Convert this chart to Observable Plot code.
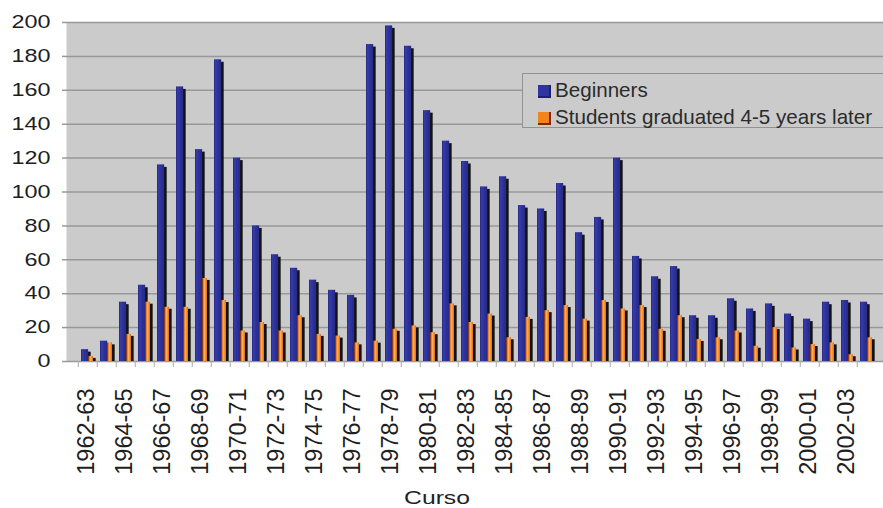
<!DOCTYPE html>
<html>
<head>
<meta charset="utf-8">
<script src="https://cdn.jsdelivr.net/npm/d3@7"></script>
<script src="https://cdn.jsdelivr.net/npm/@observablehq/plot@0.6"></script>
<style>
  html, body { margin: 0; padding: 0; background: #fff; overflow: hidden; }
  #wrap { position: relative; width: 883px; height: 508px; overflow: hidden;
          font-family: "Liberation Sans", Arial, sans-serif; }
  #legend { position: absolute; left: 522px; top: 73px; width: 380px; height: 55px;
            background: #cbcbcb; border: 1px solid #929292; box-sizing: border-box; }
  .item { position: absolute; left: 15px; font-size: 20.6px; color: #2b2b2b;
          line-height: 21px; white-space: nowrap; }
  .sw { display: inline-block; width: 11px; height: 11px; margin-right: 4px;
        vertical-align: -1px; border-right: 2px solid #111; border-bottom: 2px solid #111; }
  #xlabel { position: absolute; left: 437px; top: 487px; font-size: 19px; color: #222;
            transform: translateX(-50%) scaleX(1.3); white-space: nowrap; }
</style>
</head>
<body>
<div id="wrap">
  <div id="chart"></div>
  <div id="legend"></div>
  <div id="xlabel"></div>
</div>
<script>
// Academic years (cursos)
const categories = [
  "1962-63","1963-64","1964-65","1965-66","1966-67","1967-68","1968-69","1969-70",
  "1970-71","1971-72","1972-73","1973-74","1974-75","1975-76","1976-77","1977-78",
  "1978-79","1979-80","1980-81","1981-82","1982-83","1983-84","1984-85","1985-86",
  "1986-87","1987-88","1988-89","1989-90","1990-91","1991-92","1992-93","1993-94",
  "1994-95","1995-96","1996-97","1997-98","1998-99","1999-00","2000-01","2001-02",
  "2002-03","2003-04"
];
// Students starting each year
const beginners = [
  7, 12, 35, 45, 116, 162, 125, 178, 120, 80, 63, 55, 48, 42, 39, 187,
  198, 186, 148, 130, 118, 103, 109, 92, 90, 105, 76, 85, 120, 62, 50, 56,
  27, 27, 37, 31, 34, 28, 25, 35, 36, 35
];
// Of those, graduated 4-5 years later
const graduated = [
  3, 11, 16, 35, 32, 32, 49, 36, 18, 23, 18, 27, 16, 15, 11, 12,
  19, 21, 17, 34, 23, 28, 14, 26, 30, 33, 25, 36, 31, 33, 19, 27,
  13, 14, 18, 9, 20, 8, 10, 11, 4, 14
];
const yTicks = [0, 20, 40, 60, 80, 100, 120, 140, 160, 180, 200];
const seriesNames = ["Beginners", "Students graduated 4-5 years later"];
const axisTitle = "Curso";

const rows = categories.map((c, i) => ({curso: c, beginners: beginners[i], graduated: graduated[i]}));

const x0 = 67.3, x1 = 887.5;
const bw = (x1 - x0) / categories.length;
const shadow = "#121212";

const chart = Plot.plot({
  width: 883,
  height: 508,
  marginTop: 22,
  marginBottom: 147,
  marginLeft: 66,
  marginRight: 0,
  style: {fontFamily: "'Liberation Sans', Arial, sans-serif", background: "transparent", color: "#1e1e1e"},
  x: {type: "band", domain: categories, range: [x0, x1], padding: 0, axis: null},
  y: {domain: [0, 200], axis: null},
  marks: [
    Plot.frame({fill: "#cbcbcb", stroke: null}),
    Plot.ruleY(yTicks, {stroke: "#999", strokeWidth: 1.5}),
    Plot.axisY({ticks: yTicks, label: null, tickSize: 4, tickPadding: 12, fontSize: 18, stroke: "#999", strokeWidth: 1.5}),
    // category separators below the baseline
    Plot.axisX({ticks: categories, label: null, tickSize: 6, dx: -bw / 2, tickFormat: () => "", stroke: "#aaa"}),
    // beginners: depth then face
    Plot.barY(rows, {x: "curso", y: "beginners", fill: shadow, insetLeft: 10, insetRight: bw - 13.2, insetTop: 2.5}),
    Plot.barY(rows, {x: "curso", y: "beginners", fill: "url(#blueFace)", insetLeft: 3, insetRight: bw - 10.7}),
    // graduates: depth then face
    Plot.barY(rows, {x: "curso", y: "graduated", fill: shadow, insetLeft: 15, insetRight: bw - 18.2, insetTop: 2}),
    Plot.barY(rows, {x: "curso", y: "graduated", fill: "url(#orangeFace)", insetLeft: 10.2, insetRight: bw - 15.5}),
    Plot.axisX({
      ticks: categories.filter((d, i) => i % 2 === 0),
      label: null, tickSize: 0, tickPadding: 27, tickRotate: -90, fontSize: 23.5, dx: -2
    })
  ]
});

// shaded faces for the column fills
const defs = d3.select(chart).insert("defs", ":first-child");
const blue = defs.append("linearGradient").attr("id", "blueFace").attr("x1", 0).attr("x2", 1).attr("y1", 0).attr("y2", 0);
[[0, "#202478"], [0.15, "#363ca8"], [0.6, "#2d3198"], [1, "#242884"]]
  .forEach(([o, c]) => blue.append("stop").attr("offset", o).attr("stop-color", c));
const orange = defs.append("linearGradient").attr("id", "orangeFace").attr("x1", 0).attr("x2", 1).attr("y1", 0).attr("y2", 0);
[[0, "#8e2f10"], [0.18, "#e46d17"], [0.5, "#fbb25c"], [0.8, "#f08420"], [1, "#d8661a"]]
  .forEach(([o, c]) => orange.append("stop").attr("offset", o).attr("stop-color", c));

// widen the value labels on the left
d3.select(chart).selectAll('g[aria-label="y-axis tick label"] text').each(function() {
  const t = this.getAttribute("transform") || "";
  this.setAttribute("transform", t + " scale(1.3,1)");
});

document.getElementById("chart").appendChild(chart);

// legend
const legend = document.getElementById("legend");
const swatches = [["#2f34a0", "#1c1f6e"], ["#f2841f", "#7a2a0c"]];
seriesNames.forEach((name, i) => {
  const item = document.createElement("div");
  item.className = "item";
  item.style.top = (5 + i * 27) + "px";
  const sw = document.createElement("span");
  sw.className = "sw";
  sw.style.background = swatches[i][0];
  sw.style.borderColor = swatches[i][1];
  item.appendChild(sw);
  item.appendChild(document.createTextNode(name));
  legend.appendChild(item);
});
document.getElementById("xlabel").textContent = axisTitle;
</script>
</body>
</html>
